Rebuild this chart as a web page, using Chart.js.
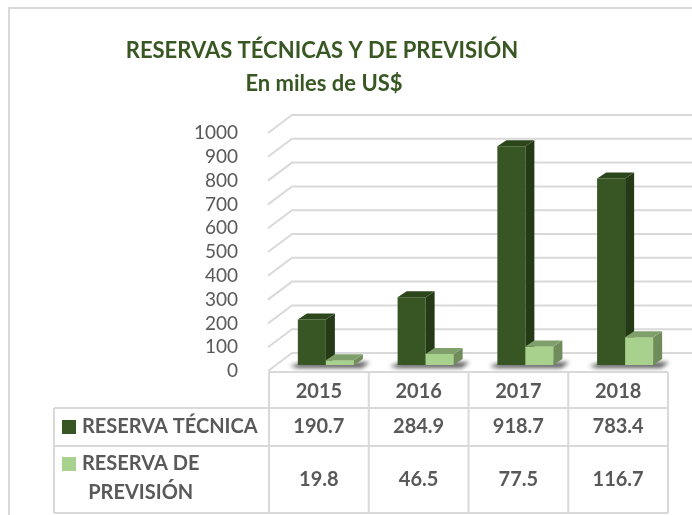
<!DOCTYPE html>
<html lang="es">
<head>
<meta charset="UTF-8">
<title>Reservas técnicas y de previsión</title>
<style>
  html, body { margin: 0; padding: 0; background: #fff; }
</style>
</head>
<body>
<canvas id="myChart" width="692" height="515"></canvas>

<script src="https://cdn.jsdelivr.net/npm/chart.js"></script>
<script>
// data
const years = ['2015', '2016', '2017', '2018'];
const reservaTecnica = [190.7, 284.9, 918.7, 783.4];
const reservaPrevision = [19.8, 46.5, 77.5, 116.7];
const tableLabels = [['RESERVA TÉCNICA'], ['RESERVA DE', 'PREVISIÓN']];
const titleLines = ['RESERVAS TÉCNICAS Y DE PREVISIÓN', 'En miles de US$'];

const frontColors = ['#375623', '#a9d18e'];
const sideColors = ['#243a16', '#6f8c5a'];
const topColors = ['#2c461b', '#80a06b'];
const gridColor = '#d9d9d9';
const textColor = '#595959';
const FONT = 'Lato, "Open Sans", sans-serif';

// depth of the 3d boxes
const DX = 9, DY = -6;

const chart3d = {
  id: 'chart3d',
  beforeDraw(chart) {
    const ctx = chart.ctx;
    ctx.save();
    // outer frame
    ctx.strokeStyle = gridColor;
    ctx.lineWidth = 2;
    ctx.beginPath();
    ctx.moveTo(9, 515);
    ctx.lineTo(9, 8);
    ctx.lineTo(692, 8);
    ctx.stroke();

    // title
    ctx.fillStyle = '#385723';
    ctx.font = 'bold 22px ' + FONT;
    ctx.textAlign = 'center';
    ctx.textBaseline = 'middle';
    ctx.fillText(titleLines[0], 322, 51);
    ctx.fillText(titleLines[1], 324, 84);

    // back wall gridlines with the short diagonal on the left side
    const ys = chart.scales.y;
    const left = chart.chartArea.left;
    ctx.strokeStyle = gridColor;
    ctx.lineWidth = 2;
    ys.ticks.forEach(t => {
      const y = ys.getPixelForValue(t.value);
      ctx.beginPath();
      ctx.moveTo(left - 8, y + 6);
      ctx.lineTo(left + 16, y - 12);
      ctx.lineTo(692, y - 12);
      ctx.stroke();
    });
    ctx.restore();
  },
  beforeDatasetsDraw(chart) {
    // floor shadows under each pair of bars
    const ctx = chart.ctx;
    const a = chart.getDatasetMeta(0).data;
    const b = chart.getDatasetMeta(1).data;
    ctx.save();
    ctx.filter = 'blur(2px)';
    ctx.fillStyle = 'rgba(20,20,20,0.7)';
    for (let i = 0; i < a.length; i++) {
      const x0 = a[i].x - a[i].width / 2 - 8;
      const x1 = b[i].x + b[i].width / 2 + 16;
      const yb = a[i].base;
      ctx.beginPath();
      ctx.moveTo(x0, yb + 1);
      ctx.lineTo(x0 + 10, yb - 2);
      ctx.lineTo(x1, yb - 3);
      ctx.lineTo(x1 - 8, yb + 3);
      ctx.lineTo(x0 + 8, yb + 3);
      ctx.closePath();
      ctx.fill();
    }
    ctx.restore();
  },
  afterDatasetsDraw(chart) {
    const ctx = chart.ctx;
    ctx.save();
    [0, 1].forEach(d => {
      chart.getDatasetMeta(d).data.forEach(bar => {
        const l = bar.x - bar.width / 2, r = bar.x + bar.width / 2;
        const y = bar.y, base = bar.base;
        if (d === 1) {
          ctx.fillStyle = frontColors[d];
          ctx.fillRect(l, y, r - l, base - y);
        }
        ctx.fillStyle = sideColors[d];
        ctx.beginPath();
        ctx.moveTo(r, y);
        ctx.lineTo(r + DX, y + DY);
        ctx.lineTo(r + DX, base + DY);
        ctx.lineTo(r, base);
        ctx.closePath();
        ctx.fill();
        ctx.fillStyle = topColors[d];
        ctx.beginPath();
        ctx.moveTo(l, y);
        ctx.lineTo(l + DX, y + DY);
        ctx.lineTo(r + DX, y + DY);
        ctx.lineTo(r, y);
        ctx.closePath();
        ctx.fill();
      });
    });
    ctx.restore();
  },
  afterDraw(chart) {
    // data table under the plot
    const ctx = chart.ctx;
    const xs = chart.scales.x;
    const slot = (chart.chartArea.right - chart.chartArea.left) / years.length;
    const colLeft = i => xs.getPixelForValue(i) - 7 - slot / 2;
    const tLeft = 54, r0 = 372, r1 = 408, r2 = 446, r3 = 513;
    const c0 = colLeft(0), cEnd = colLeft(years.length - 1) + slot;

    ctx.save();
    ctx.strokeStyle = gridColor;
    ctx.lineWidth = 2;
    ctx.beginPath();
    ctx.moveTo(c0, r0); ctx.lineTo(cEnd, r0);
    ctx.moveTo(tLeft, r1); ctx.lineTo(cEnd, r1);
    ctx.moveTo(tLeft, r2); ctx.lineTo(cEnd, r2);
    ctx.moveTo(tLeft, r3); ctx.lineTo(cEnd, r3);
    ctx.moveTo(tLeft, r1); ctx.lineTo(tLeft, r3);
    for (let i = 0; i <= years.length; i++) {
      const x = i < years.length ? colLeft(i) : cEnd;
      ctx.moveTo(x, r0); ctx.lineTo(x, r3);
    }
    ctx.stroke();

    ctx.fillStyle = textColor;
    ctx.font = 'bold 20px ' + FONT;
    ctx.textAlign = 'center';
    ctx.textBaseline = 'middle';
    years.forEach((yr, i) => {
      const cx = colLeft(i) + slot / 2;
      ctx.fillText(yr, cx, 392);
      ctx.fillText(reservaTecnica[i].toFixed(1), cx, 427);
      ctx.fillText(reservaPrevision[i].toFixed(1), cx, 480);
    });

    // legend keys and row labels
    ctx.fillStyle = frontColors[0];
    ctx.fillRect(62, 420, 14, 14);
    ctx.fillStyle = frontColors[1];
    ctx.fillRect(62, 457, 14, 14);
    ctx.fillStyle = textColor;
    ctx.textAlign = 'left';
    ctx.fillText(tableLabels[0][0], 82, 427);
    ctx.fillText(tableLabels[1][0], 82, 464);
    const w = ctx.measureText(tableLabels[1][0]).width;
    ctx.textAlign = 'center';
    ctx.fillText(tableLabels[1][1], 82 + w / 2, 493);
    ctx.restore();
  }
};

new Chart(document.getElementById('myChart'), {
  type: 'bar',
  data: {
    labels: years,
    datasets: [
      { label: 'RESERVA TÉCNICA', data: reservaTecnica, backgroundColor: frontColors[0] },
      { label: 'RESERVA DE PREVISIÓN', data: reservaPrevision, backgroundColor: frontColors[1] }
    ]
  },
  options: {
    responsive: false,
    animation: false,
    events: [],
    layout: { padding: { left: 0, right: 17, top: 127, bottom: 150 } },
    datasets: { bar: { barPercentage: 1, categoryPercentage: 0.562, borderWidth: 0 } },
    plugins: { legend: { display: false }, title: { display: false }, tooltip: { enabled: false } },
    scales: {
      x: { display: false },
      y: {
        min: 0,
        max: 1000,
        grid: { display: false },
        border: { display: false },
        afterFit(scale) { scale.width = 276; },
        ticks: {
          stepSize: 100,
          autoSkip: false,
          callback: v => String(v),
          color: textColor,
          font: { family: FONT, size: 19 },
          padding: 30,
          labelOffset: 6
        }
      }
    }
  },
  plugins: [chart3d]
});
</script>
</body>
</html>
